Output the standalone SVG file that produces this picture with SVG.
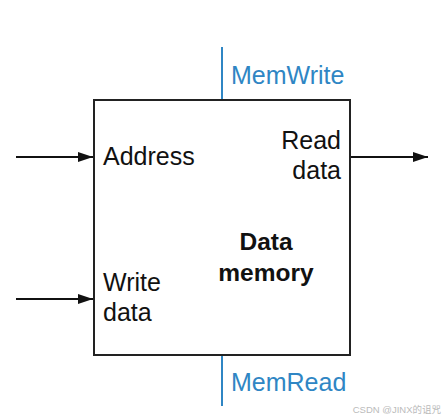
<svg xmlns="http://www.w3.org/2000/svg" width="445" height="418" viewBox="0 0 445 418">
<style>
.t{font-family:"Liberation Sans",Arial,sans-serif;font-size:25px;fill:#111}
.b{font-weight:bold;text-anchor:middle;font-size:24.5px}
.c{fill:#2f86c4}
.w{stroke:#111;stroke-width:2;fill:none}
.ctl{stroke:#2f86c4;stroke-width:2}
</style>
<defs>
<marker id="ah" markerWidth="15" markerHeight="10" refX="15" refY="5" orient="auto" markerUnits="userSpaceOnUse">
<path d="M0,0 L15,5 L0,10 Z" fill="#111"/>
</marker>
</defs>
<rect width="445" height="418" fill="#fff"/>
<g id="connectors">
<line class="w" x1="16" y1="157" x2="93" y2="157" marker-end="url(#ah)"/>
<line class="w" x1="16" y1="299" x2="93" y2="299" marker-end="url(#ah)"/>
<line class="w" x1="351" y1="157" x2="428" y2="157" marker-end="url(#ah)"/>
<line class="ctl" x1="222" y1="47" x2="222" y2="100"/>
<line class="ctl" x1="222" y1="355" x2="222" y2="406"/>
</g>
<g id="data-memory">
<rect x="94" y="100" width="256" height="255" fill="#fff" stroke="#222" stroke-width="2"/>
<text class="t" x="103" y="165">Address</text>
<text class="t" x="341" y="149" text-anchor="end">Read</text>
<text class="t" x="341" y="179" text-anchor="end">data</text>
<text class="t" x="103" y="291">Write</text>
<text class="t" x="103" y="321">data</text>
<text class="t b" x="266" y="250">Data</text>
<text class="t b" x="266" y="281">memory</text>
</g>
<g id="memwrite"><text class="t c" x="231" y="84">MemWrite</text></g>
<g id="memread"><text class="t c" x="231" y="391">MemRead</text></g>
<text x="441" y="413" text-anchor="end" font-family="'Liberation Sans','Noto Sans CJK SC',sans-serif" font-size="9.5" fill="#bbb">CSDN @JINX的诅咒</text>
</svg>
